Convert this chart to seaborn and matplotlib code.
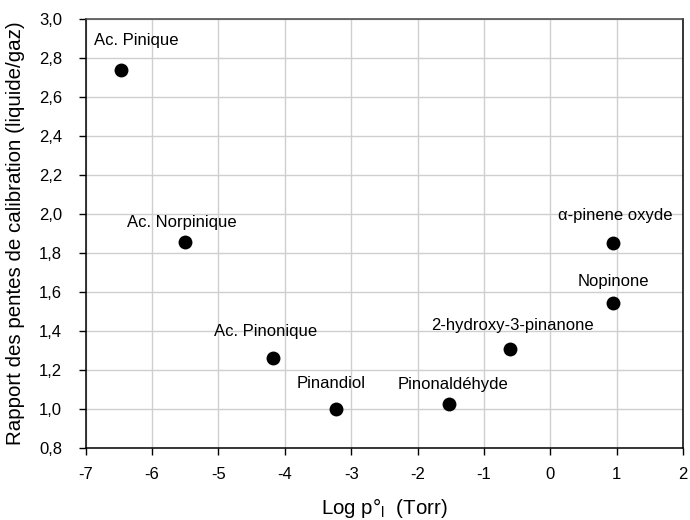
import matplotlib
matplotlib.use("Agg")
import matplotlib.pyplot as plt
from matplotlib.ticker import FuncFormatter, MultipleLocator
import seaborn as sns
import pandas as pd

# Composés, log de la pression de vapeur et rapport des pentes
composes = ["Ac. Pinique", "Ac. Norpinique", "Ac. Pinonique", "Pinandiol",
            "Pinonaldéhyde", "2-hydroxy-3-pinanone", "Nopinone", "α-pinene oxyde"]
log_p = [-6.47, -5.50, -4.18, -3.23, -1.53, -0.61, 0.95, 0.95]
rapport = [2.738, 1.858, 1.263, 1.002, 1.024, 1.306, 1.542, 1.849]

# Décalage des étiquettes par rapport aux points (pixels)
decalages = [(15, 25), (-3, 15), (-7, 22), (-5, 21), (4, 15), (3, 19), (0, 17), (2, 23)]

df = pd.DataFrame({"log_p": log_p, "rapport": rapport, "nom": composes})

sns.set_theme(style="whitegrid")
plt.rcParams["font.family"] = ["Liberation Sans", "DejaVu Sans"]
plt.rcParams["axes.unicode_minus"] = False
plt.rcParams["mathtext.fontset"] = "custom"
plt.rcParams["mathtext.rm"] = "Liberation Sans"

fig = plt.figure(figsize=(6.9, 5.2), dpi=100)
ax = fig.add_axes([0.1242, 0.1385, 0.8658, 0.825])

sns.scatterplot(data=df, x="log_p", y="rapport", ax=ax, s=100, color="black",
                edgecolor="black", linewidth=0, zorder=3)

for (nom, x, y), (dx, dy) in zip(zip(composes, log_p, rapport), decalages):
    ax.annotate(nom, (x, y), xytext=(dx * 0.72, dy * 0.72), textcoords="offset points",
                ha="center", va="baseline", fontsize=12, color="black")

ax.set_xlim(-7, 2)
ax.set_ylim(0.8, 3.0)
ax.xaxis.set_major_locator(MultipleLocator(1))
ax.yaxis.set_major_locator(MultipleLocator(0.2))
ax.xaxis.set_major_formatter(FuncFormatter(lambda v, _: f"{v:.0f}"))
ax.yaxis.set_major_formatter(FuncFormatter(lambda v, _: f"{v:.1f}".replace(".", ",")))

ax.grid(True, color="#cfcfcf", linewidth=1.0)
ax.set_axisbelow(True)
for side in ["left", "bottom", "right"]:
    ax.spines[side].set_color("black")
    ax.spines[side].set_linewidth(1.1)
ax.spines["top"].set_color("#444444")
ax.spines["top"].set_linewidth(1.1)

ax.tick_params(axis="both", which="major", direction="out", length=5, width=1,
               color="black", labelsize=12, labelcolor="black", pad=9, bottom=True, left=True)
ax.tick_params(axis="y", pad=12)

ax.set_xlabel("Log p°$_\\mathregular{l}$  (Torr)", fontsize=14.8, color="black", labelpad=10)
ax.set_ylabel("Rapport des pentes de calibration (liquide/gaz)", fontsize=14.8,
              color="black", labelpad=10)

fig.savefig("out.png", dpi=100, facecolor="white")
